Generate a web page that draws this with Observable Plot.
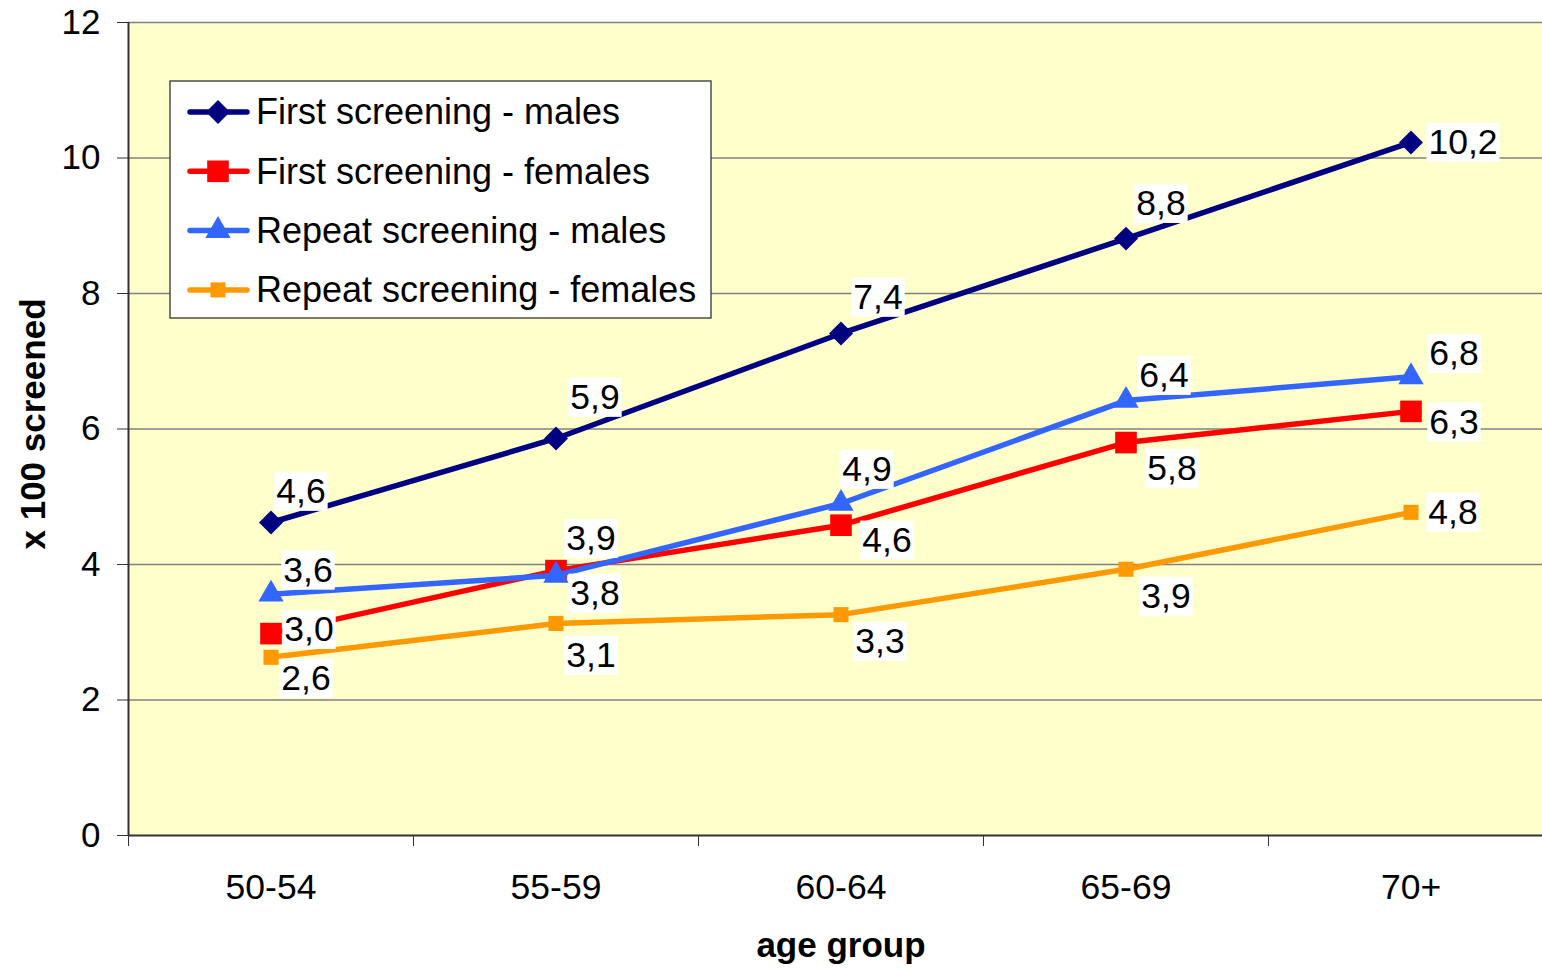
<!DOCTYPE html>
<html><head><meta charset="utf-8">
<script src="https://cdn.jsdelivr.net/npm/d3@7"></script>
<script src="https://cdn.jsdelivr.net/npm/@observablehq/plot@0.6"></script>
<style>
html,body{margin:0;padding:0;background:#fff;overflow:hidden}
#chart svg{display:block}
</style></head><body><div id="chart"></div>
<script>
// ---- data ----
const ageGroups = ["50-54", "55-59", "60-64", "65-69", "70+"];
const seriesNames = ["First screening - males", "First screening - females", "Repeat screening - males", "Repeat screening - females"];
const firstMales    = [4.62, 5.86, 7.41, 8.81, 10.23];
const firstFemales  = [2.98, 3.91, 4.58, 5.80, 6.26];
const repeatMales   = [3.56, 3.84, 4.90, 6.42, 6.77];
const repeatFemales = [2.63, 3.13, 3.26, 3.93, 4.77];
const yTicks = [0, 2, 4, 6, 8, 10, 12];
const xTitle = "age group";
const yTitle = "x 100 screened";

// ---- styles ----
const seriesStyle = [
  {color: "#000080", symbol: "diamond2", r: 10.8},
  {color: "#ff0000", symbol: "square",   r: 12.2},
  {color: "#3366ff", symbol: "triangle", r: 9.4},
  {color: "#ff9900", symbol: "square",   r: 8.5}
];
// label offsets (px) per series, per age group
const labelOffsets = [
  [[30,-31],[39,-41],[37,-36],[35,-35],[52,0]],
  [[38,-4],[35,-32],[46,15],[46,26],[43,11]],
  [[37,-24],[39,18],[26,-34],[38,-25],[43,-23]],
  [[35,21],[35,32],[39,27],[40,27],[42,0]]
];

const valueSeries = [firstMales, firstFemales, repeatMales, repeatFemales];
const rows = [];
valueSeries.forEach((vals, s) => vals.forEach((v, i) => rows.push({s, i, series: seriesNames[s], group: ageGroups[i], value: v})));
const fmt = v => d3.format(".1f")(v).replace(".", ",");
const FONT = "'Liberation Sans', Arial, Helvetica, sans-serif";
const FS = 35.5;

const seriesMarks = [];
seriesStyle.forEach((st, s) => {
  const data = rows.filter(d => d.s === s);
  seriesMarks.push(Plot.line(data, {x: "i", y: "value", stroke: st.color, strokeWidth: 5.5, strokeLinejoin: "round"}));
  seriesMarks.push(Plot.dot(data, {x: "i", y: "value", symbol: st.symbol, r: st.r, fill: st.color, stroke: null}));
});
const labelMarks = rows.map(d => Plot.text([d], {
  x: "i", y: "value", text: r => fmt(r.value),
  dx: labelOffsets[d.s][d.i][0], dy: labelOffsets[d.s][d.i][1],
  fontSize: FS, fill: "#000", className: "dlabel"
}));

const chart = Plot.plot({
  width: 1542, height: 968,
  marginLeft: 128, marginTop: 22, marginBottom: 133, marginRight: 0,
  style: {fontFamily: FONT, background: "#fff", color: "#000", overflow: "hidden"},
  x: {type: "linear", domain: [-0.5, ageGroups.length - 0.5], range: [128, 1553]},
  y: {domain: [0, 12], range: [835, 22]},
  marks: [
    Plot.frame({fill: "#ffffcc", stroke: null}),
    Plot.ruleY(yTicks.filter(t => t > 0), {stroke: "#808080", strokeWidth: 1.3}),
    Plot.axisY({ticks: yTicks, tickSize: 11, tickPadding: 17, fontSize: 35, label: null, stroke: "#333", tickFormat: d => String(d)}),
    Plot.axisX({ticks: ageGroups.map((g, i) => i - 0.5), tickSize: 11, tickFormat: () => "", label: null, stroke: "#333"}),
    Plot.axisX({ticks: ageGroups.map((g, i) => i), tickSize: 0, tickPadding: 38, fontSize: FS, label: null, tickFormat: i => ageGroups[i]}),
    Plot.ruleX([-0.5], {stroke: "#333", strokeWidth: 2}),
    Plot.ruleY([0], {stroke: "#333", strokeWidth: 2}),
    ...seriesMarks,
    ...labelMarks,
    Plot.text([xTitle], {x: () => (ageGroups.length - 1) / 2, y: () => 0, text: d => d, dy: 110, fontSize: 35, fontWeight: "bold", fill: "#000"}),
    Plot.text([yTitle], {frameAnchor: "left", textAnchor: "middle", text: d => d, rotate: -90, dx: -95, dy: -5, fontSize: 35, fontWeight: "bold", fill: "#000"})
  ]
});
document.getElementById("chart").appendChild(chart);

// white boxes behind data labels
d3.select(chart).selectAll("g.dlabel text").each(function() {
  const b = this.getBBox();
  d3.select(this.parentNode).insert("rect", () => this)
    .attr("transform", this.getAttribute("transform"))
    .attr("x", b.x - 2).attr("y", b.y + 1).attr("width", b.width + 4).attr("height", b.height - 1)
    .attr("fill", "#fff");
});

// legend
const symMap = {diamond2: d3.symbolDiamond2, square: d3.symbolSquare, triangle: d3.symbolTriangle};
const lg = d3.select(chart).append("g").attr("class", "legend").attr("font-family", FONT).attr("text-anchor", "start");
lg.append("rect").attr("x", 170).attr("y", 81).attr("width", 541).attr("height", 237)
  .attr("fill", "#fff").attr("stroke", "#333").attr("stroke-width", 1.3);
seriesNames.forEach((name, k) => {
  const st = seriesStyle[k];
  const cy = 112 + k * 59.3;
  lg.append("line").attr("x1", 190).attr("x2", 247).attr("y1", cy).attr("y2", cy)
    .attr("stroke", st.color).attr("stroke-width", 5.5).attr("stroke-linecap", "round");
  lg.append("path").attr("transform", `translate(218,${cy})`)
    .attr("d", d3.symbol(symMap[st.symbol], Math.PI * st.r * st.r)()).attr("fill", st.color);
  lg.append("text").attr("x", 256).attr("y", cy).attr("dy", "0.34em").attr("font-size", 36)
    .attr("text-anchor", "start").attr("fill", "#000").text(name);
});
</script>
</body></html>
